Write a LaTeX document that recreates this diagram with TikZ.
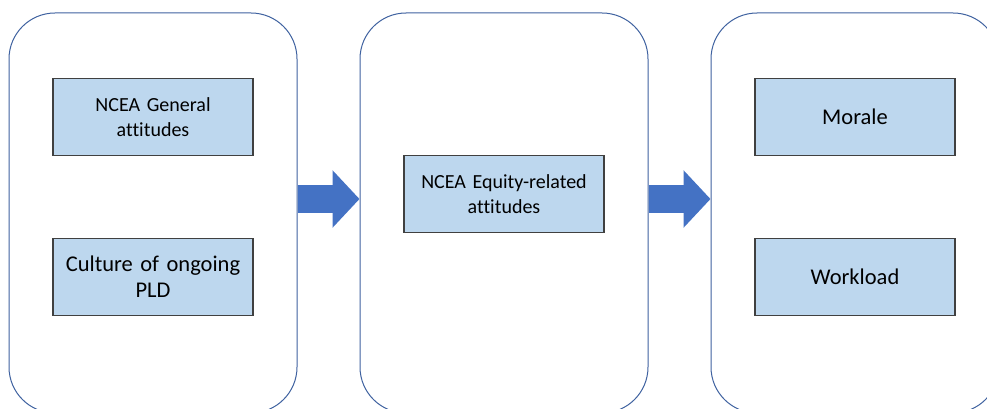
\documentclass[tikz,border=0pt]{standalone}
\usepackage{fontspec}
\setmainfont[Ligatures={NoCommon}]{Carlito}
\usetikzlibrary{arrows.meta, positioning}
\definecolor{groupborder}{HTML}{3F62A0}
\definecolor{factorfill}{HTML}{BDD7EE}
\definecolor{factorborder}{HTML}{404040}
\definecolor{flowblue}{HTML}{4472C4}

\begin{document}
\begin{tikzpicture}[
        x=1pt, y=1pt,
        group/.style={
            draw=groupborder,
            line width=1pt,
            rounded corners=46pt,
            minimum width=288pt,
            minimum height=400pt,
            inner sep=0pt
        },
        factor/.style={
            draw=factorborder,
            line width=1.4pt,
            fill=factorfill,
            minimum width=200pt,
            minimum height=77pt,
            inner sep=0pt,
            align=center,
            text width=190pt
        },
        smalltext/.style={font=\fontsize{20}{25}\selectfont},
        largetext/.style={font=\fontsize{22.5}{26}\selectfont},
        flow/.style={-{Triangle[length=27pt,width=56pt]}, line width=28pt, flowblue}
    ]
        \clip (0,0) rectangle (987,408);
        \fill[white] (0,0) rectangle (987,408);

        \node[group] (inputs) at (153,195) {};
        \node[group, right=62pt of inputs] (equity) {};
        \node[group, right=62pt of equity] (outcomes) {};

        \node[factor, smalltext, below=65pt of inputs.north] (general) {NCEA General\\attitudes};
        \node[factor, largetext, below=82pt of general] (culture) {Culture of ongoing\\PLD};
        \node[factor, smalltext, below=142pt of equity.north] (equityatt) {NCEA Equity-related\\attitudes};
        \node[factor, largetext, below=65pt of outcomes.north] (morale) {Morale};
        \node[factor, largetext, below=82pt of morale] (workload) {Workload};

        \draw[flow] ([yshift=14pt]inputs.east) -- ([yshift=14pt]equity.west);
        \draw[flow] ([yshift=14pt]equity.east) -- ([yshift=14pt]outcomes.west);
    \end{tikzpicture}
\end{document}
